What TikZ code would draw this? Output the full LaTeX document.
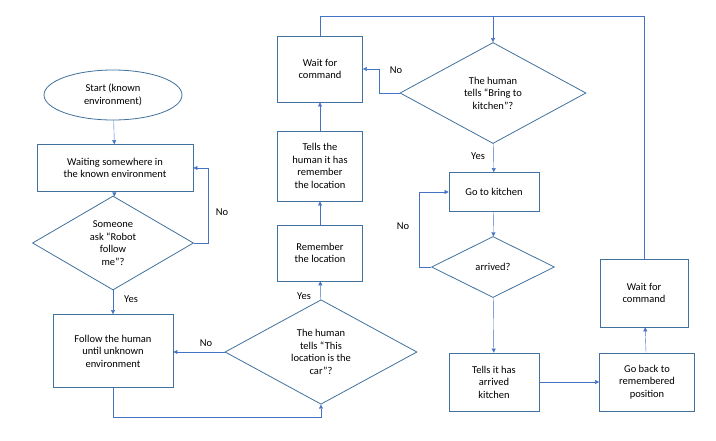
\documentclass[tikz,border=0pt]{standalone}
\usepackage{fontspec}
\setmainfont{Carlito}
\usetikzlibrary{shapes.geometric,arrows.meta}
\colorlet{edg}{blue!40!cyan!60!black}
\definecolor{lnx}{HTML}{4472C4}
\definecolor{bdx}{HTML}{41719C}
\tikzset{
    box/.style={draw=bdx,thick,fill=white,align=center,inner sep=0pt,font=\fontsize{10.5}{12.5}\selectfont},
    dia/.style={draw=bdx,thick,diamond,fill=white,align=center,inner sep=0pt,font=\fontsize{10.5}{12.5}\selectfont},
    arr/.style={lnx,-{Triangle[length=4pt,width=4pt]}},
    lab/.style={font=\fontsize{10.5}{12.5}\selectfont}
}
\begin{document}
\begin{tikzpicture}[x=1pt,y=-1pt]
    \useasboundingbox (0,0) rectangle (716,440);
    % left column
    \node [box,ellipse,minimum width=138,minimum height=50] (start) at (113,95) {Start (known\\environment)};
    \node [box,minimum width=156,minimum height=47] (wait) at (115,168) {Waiting somewhere in\\the known environment};
    \node [dia,minimum width=161,minimum height=94] (ask) at (113,243) {Someone\\ask “Robot\\follow\\me”?};
    \node [box,minimum width=120,minimum height=73] (follow) at (113,351) {Follow the human\\until unknown\\environment};
    % middle column
    \node [dia,minimum width=192,minimum height=95] (car) at (321,352) {The human\\tells “This\\location is the\\car”?};
    \node [box,minimum width=85,minimum height=56] (remember) at (320,253) {Remember\\the location};
    \node [box,minimum width=85,minimum height=70] (tells) at (320,166) {Tells the\\human it has\\remember\\the location};
    \node [box,minimum width=85,minimum height=66] (cmdA) at (320,69) {Wait for\\command};
    % right part
    \node [dia,minimum width=186,minimum height=101] (bring) at (493,93) {The human\\tells “Bring to\\kitchen”?};
    \node [box,minimum width=90,minimum height=39] (go) at (494,192) {Go to kitchen};
    \node [dia,minimum width=123,minimum height=61] (arrived) at (493,267) {arrived?};
    \node [box,minimum width=90,minimum height=58] (told) at (494,382) {Tells it has\\arrived\\kitchen};
    \node [box,minimum width=95,minimum height=58] (back) at (647,382) {Go back to\\remembered\\position};
    \node [box,minimum width=88,minimum height=68] (cmdB) at (644,293) {Wait for\\command};
    \coordinate (top) at (493,16);

    \draw [arr] (start) -- (wait);
    \draw [arr] (wait) -- (ask);
    \draw [arr] (ask.east) -- ++(14,0) |- (wait.east);
    \draw [arr] (ask) -- (follow);
    \draw [arr] (car.west) -- (follow.east |- car.west);
    \draw [arr] (follow.south) -- ++(0,29) -| (car.south);
    \draw [arr] (car) -- (remember);
    \draw [arr] (remember) -- (tells);
    \draw [arr] (tells) -- (cmdA);
    \draw [lnx] (cmdA.north) |- (top);
    \draw [lnx] (cmdB.north) |- (top);
    \draw [arr] (top) -- (bring.north);
    \draw [arr] (bring.west) -- ++(-20,0) |- (cmdA.east);
    \draw [arr] (bring) -- (go);
    \draw [arr] (go) -- (arrived);
    \draw [arr] (arrived.west) -- ++(-12,0) |- (go.west);
    \draw [arr] (arrived) -- (told);
    \draw [arr] (told) -- (back);
    \draw [arr] (back) -- (cmdB);

    \node [lab] (no1) at (222,212) {No};
    \node [lab] (yes1) at (131,299) {Yes};
    \node [lab] (no2) at (206,343) {No};
    \node [lab] (yes2) at (304,296) {Yes};
    \node [lab] (no3) at (396,70) {No};
    \node [lab] (yes3) at (478,156) {Yes};
    \node [lab] (no4) at (403,226) {No};
\end{tikzpicture}
\end{document}
